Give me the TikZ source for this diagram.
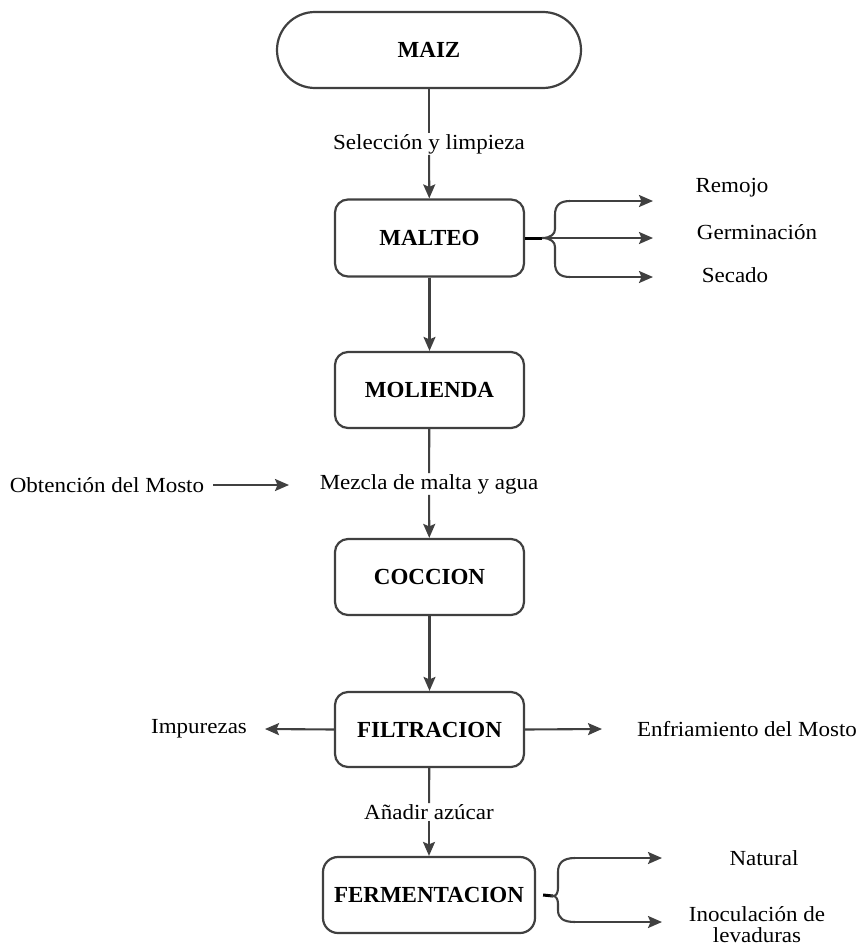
\documentclass[tikz,border=0pt]{standalone}
\usepackage{fontspec}
\setmainfont{Liberation Serif}
\newfontfamily\plainfont[FakeStretch=1.07]{Liberation Serif}
\usetikzlibrary{arrows.meta}
\definecolor{linegray}{HTML}{404040}
\tikzset{
  stage/.style={draw=linegray, line width=2.2bp, rounded corners=13bp,
    minimum width=189bp, minimum height=77bp, inner sep=0pt,
    font=\fontsize{23bp}{26bp}\selectfont\bfseries},
  lbl/.style={font=\plainfont\fontsize{21.5bp}{24bp}\selectfont, inner sep=1bp},
  linelbl/.style={lbl, fill=white},
  link/.style={draw=linegray, line width=2.1bp},
  arr/.style={link, -{Stealth[length=14bp,width=12bp,inset=2.5bp]}},
  stem/.style={draw=black, line width=3bp},
}
\begin{document}
\begin{tikzpicture}[x=1bp,y=-1bp]
\useasboundingbox (0,0) rectangle (859,948);

% process stages
\node[stage, minimum width=304bp, minimum height=76bp, rounded corners=38bp] (maiz) at (429,50) {MAIZ};
\node[stage] (malteo) at (429.5,238) {MALTEO};
\node[stage, minimum height=76bp] (molienda) at (429.5,390) {MOLIENDA};
\node[stage, minimum height=76bp] (coccion) at (429.5,577) {COCCION};
\node[stage, minimum height=75bp] (filtracion) at (429.5,729.5) {FILTRACION};
\node[stage, minimum width=212bp, minimum height=76bp, rounded corners=15bp] (ferment) at (429,895) {FERMENTACION};

% labels that sit on the main line
\node[linelbl] (seleccion) at (429,144) {Selección y limpieza};
\node[linelbl] (mezcla) at (429,484) {Mezcla de malta y agua};
\node[linelbl] (azucar) at (429,812) {Añadir azúcar};

% main flow
\draw[link] (maiz) -- (seleccion);
\draw[arr] (seleccion) -- (malteo);
\draw[arr] (malteo) -- (molienda);
\draw[link] (molienda) -- (mezcla);
\draw[arr] (mezcla) -- (coccion);
\draw[arr] (coccion) -- (filtracion);
\draw[link] (filtracion) -- (azucar);
\draw[arr] (azucar) -- (ferment);

% malting steps
\node[lbl] (remojo) at (732,188) {Remojo};
\node[lbl] (germ) at (757,232) {Germinación};
\node[lbl] (secado) at (735,275) {Secado};
\coordinate (bA) at (570,201);
\coordinate (bB) at (542,238);
\coordinate (bC) at (570,277);
\coordinate (tA) at (653,201);
\coordinate (tB) at (653,238);
\coordinate (tC) at (653,277);
\draw[stem] (malteo.east) -- (bB);
\draw[link] (bA) .. controls (559,201) and (555,206) .. (555,215) -- (555,229)
  .. controls (555,234) and (551,238) .. (bB)
  .. controls (551,238) and (555,242) .. (555,247) -- (555,263)
  .. controls (555,272) and (559,277) .. (bC);
\draw[arr] (bA) -- (tA);
\draw[arr] (bB) -- (tB);
\draw[arr] (bC) -- (tC);

% wort
\node[lbl] (obtencion) at (107,485) {Obtención del Mosto};
\coordinate (obtTip) at (289,485);
\draw[arr] (obtencion.east) ++(8,0) -- (obtTip);

% filtration outputs
\node[lbl] (impurezas) at (199,729) {Impurezas};
\node[lbl] (enfria) at (747,729) {Enfriamiento del Mosto};
\coordinate (impTip) at (265,729);
\coordinate (enfTip) at (602,729);
\draw[arr] (filtracion.west) -- (impTip);
\draw[arr] (filtracion.east) -- (enfTip);

% fermentation types
\node[lbl] (natural) at (764,858) {Natural};
\node[lbl, align=center, font=\plainfont\fontsize{21.5bp}{21bp}\selectfont] (inocula) at (757,925) {Inoculación de\\levaduras};
\coordinate (fA) at (575,858);
\coordinate (fB) at (553,896);
\coordinate (fC) at (575,922);
\coordinate (fTipA) at (662,858);
\coordinate (fTipC) at (662,922);
\draw[stem] ([xshift=7bp]ferment.east) -- (fB);
\draw[link] (fA) .. controls (563,858) and (558,863) .. (558,872) -- (558,888)
  .. controls (558,893) and (556,896) .. (fB)
  .. controls (556,896) and (558,899) .. (558,904) -- (558,910)
  .. controls (558,918) and (563,922) .. (fC);
\draw[arr] (fA) -- (fTipA);
\draw[arr] (fC) -- (fTipC);
\end{tikzpicture}
\end{document}
